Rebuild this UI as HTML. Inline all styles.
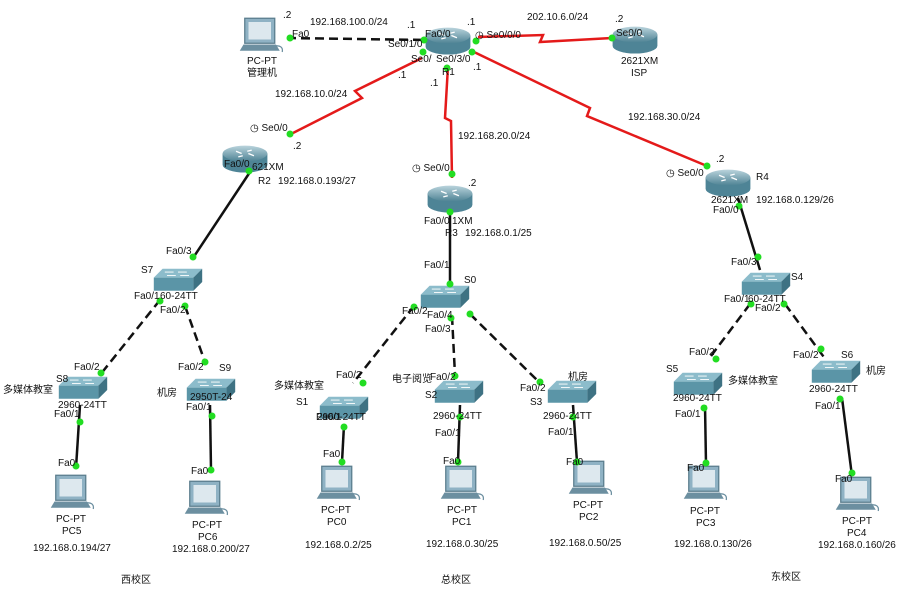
<!DOCTYPE html>
<html><head><meta charset="utf-8"><style>
body{margin:0;background:#fff}
svg text{font-family:"Liberation Sans","Noto Sans CJK SC",sans-serif;font-size:10px;fill:#111}
</style></head><body>
<svg width="904" height="596" viewBox="0 0 904 596" xmlns="http://www.w3.org/2000/svg">
<defs>
<linearGradient id="rg" x1="0" y1="0" x2="0" y2="1"><stop offset="0" stop-color="#b9d3dc"/><stop offset="1" stop-color="#4f8495"/></linearGradient>
<g id="router" transform="scale(1.12)">
<path d="M-20,-4 v10 a20,7 0 0 0 40,0 v-10z" fill="#4e8496"/>
<ellipse cx="0" cy="-4" rx="20" ry="7" fill="url(#rg)"/>
<path d="M-8,-6 l5,2 M8,-2 l-5,-2 M-6,-1 l4,-1 M6,-7 l-4,1" stroke="#fff" stroke-width="1.2"/>
</g>
<g id="switch" transform="scale(1.1)">
<path d="M-22,-4 l8,-8 h36 l-8,8z" fill="#8cbccb"/>
<path d="M-22,-4 h36 v12 h-36z" fill="#5b95a7"/>
<path d="M14,-4 l8,-8 v12 l-8,8z" fill="#3e7283"/>
<path d="M-12,-9 h8 M0,-9 h8 M-10,-6 h8 M2,-6 h8" stroke="#fff" stroke-width="0.8"/>
</g>
<g id="pc" transform="scale(1.25)">
<rect x="-13" y="-15" width="24" height="20" fill="#8fb2c4" stroke="#5a7c8c"/>
<rect x="-10" y="-12" width="18" height="14" fill="#dde8ee"/>
<path d="M-14,6 h26 l3,5 h-32z" fill="#6c8fa0"/>
<path d="M12,7 q6,0 5,5" stroke="#6c8fa0" fill="none"/>
</g>
</defs>

<g stroke="#e41a1a" stroke-width="2.5" fill="none">
<polyline points="478,37 543,35 540,42 612,38"/>
<polyline points="422,58 355,91 362,98 291,134"/>
<polyline points="448,66 445,118 451,121 452,178"/>
<polyline points="474,52 590,108 587,116 707,166"/>
</g>
<g stroke="#111" stroke-width="2.5" fill="none" stroke-dasharray="9,5">
<line x1="287" y1="38" x2="428" y2="40"/>
<line x1="160" y1="300" x2="100" y2="375"/>
<line x1="185" y1="306" x2="205" y2="362"/>
<line x1="414" y1="306" x2="353" y2="383"/>
<line x1="452" y1="316" x2="455" y2="375"/>
<line x1="470" y1="314" x2="540" y2="383"/>
<line x1="750" y1="304" x2="708" y2="360"/>
<line x1="785" y1="304" x2="826" y2="360"/>
</g>
<g stroke="#111" stroke-width="2.5" fill="none">
<line x1="250" y1="172" x2="193" y2="258"/>
<line x1="450" y1="212" x2="450" y2="282"/>
<line x1="738" y1="198" x2="760" y2="270"/>
<line x1="80" y1="405" x2="76" y2="468"/>
<line x1="210" y1="405" x2="211" y2="470"/>
<line x1="344" y1="425" x2="342" y2="462"/>
<line x1="460" y1="405" x2="458" y2="462"/>
<line x1="573" y1="405" x2="577" y2="462"/>
<line x1="705" y1="405" x2="706" y2="464"/>
<line x1="842" y1="398" x2="852" y2="476"/>
</g>

<use href="#pc" x="261" y="37"/>
<use href="#router" x="448" y="40"/>
<use href="#router" x="635" y="39"/>
<use href="#router" x="245" y="158"/>
<use href="#router" x="450" y="198"/>
<use href="#router" x="728" y="182"/>
<use href="#switch" x="178" y="282"/>
<use href="#switch" x="445" y="299"/>
<use href="#switch" x="766" y="286"/>
<use href="#switch" x="83" y="390"/>
<use href="#switch" x="211" y="392"/>
<use href="#switch" x="344" y="410"/>
<use href="#switch" x="459" y="394"/>
<use href="#switch" x="572" y="394"/>
<use href="#switch" x="698" y="386"/>
<use href="#switch" x="836" y="374"/>
<use href="#pc" x="72" y="494"/>
<use href="#pc" x="206" y="500"/>
<use href="#pc" x="338" y="485"/>
<use href="#pc" x="462" y="485"/>
<use href="#pc" x="590" y="480"/>
<use href="#pc" x="705" y="485"/>
<use href="#pc" x="857" y="496"/>

<g fill="#22dd22">
<circle cx="290" cy="38" r="3.5"/><circle cx="424" cy="40" r="3.5"/><circle cx="423" cy="52" r="3.5"/>
<circle cx="476" cy="41" r="3.5"/><circle cx="612" cy="38" r="3.5"/><circle cx="447" cy="68" r="3.5"/>
<circle cx="472" cy="52" r="3.5"/><circle cx="290" cy="134" r="3.5"/><circle cx="452" cy="174" r="3.5"/>
<circle cx="707" cy="166" r="3.5"/><circle cx="249" cy="171" r="3.5"/><circle cx="193" cy="257" r="3.5"/>
<circle cx="450" cy="212" r="3.5"/><circle cx="450" cy="284" r="3.5"/><circle cx="739" cy="206" r="3.5"/>
<circle cx="758" cy="257" r="3.5"/><circle cx="160" cy="301" r="3.5"/><circle cx="185" cy="306" r="3.5"/>
<circle cx="101" cy="373" r="3.5"/><circle cx="205" cy="362" r="3.5"/><circle cx="414" cy="307" r="3.5"/>
<circle cx="451" cy="318" r="3.5"/><circle cx="470" cy="314" r="3.5"/><circle cx="363" cy="383" r="3.5"/>
<circle cx="455" cy="376" r="3.5"/><circle cx="540" cy="382" r="3.5"/><circle cx="751" cy="304" r="3.5"/>
<circle cx="784" cy="304" r="3.5"/><circle cx="716" cy="359" r="3.5"/><circle cx="821" cy="349" r="3.5"/>
<circle cx="80" cy="422" r="3.5"/><circle cx="212" cy="416" r="3.5"/><circle cx="344" cy="427" r="3.5"/>
<circle cx="460" cy="417" r="3.5"/><circle cx="573" cy="417" r="3.5"/><circle cx="704" cy="408" r="3.5"/>
<circle cx="840" cy="399" r="3.5"/><circle cx="76" cy="466" r="3.5"/><circle cx="211" cy="470" r="3.5"/>
<circle cx="342" cy="462" r="3.5"/><circle cx="458" cy="462" r="3.5"/><circle cx="577" cy="462" r="3.5"/>
<circle cx="706" cy="463" r="3.5"/><circle cx="852" cy="473" r="3.5"/>
</g>

<text x="283" y="18">.2</text><text x="310" y="25">192.168.100.0/24</text><text x="407" y="28">.1</text>
<text x="292" y="37">Fa0</text><text x="247" y="64">PC-PT</text><text x="247" y="76">管理机</text>
<text x="425" y="37">Fa0/0</text><text x="467" y="25">.1</text><text x="388" y="47">Se0/1/0</text>
<text x="411" y="62">Se0/</text><text x="436" y="62">Se0/3/0</text><text x="442" y="75">R1</text>
<text x="475" y="38">◷ Se0/0/0</text><text x="527" y="20">202.10.6.0/24</text><text x="615" y="22">.2</text>
<text x="616" y="36">Se0/0</text><text x="621" y="64">2621XM</text><text x="631" y="76">ISP</text>
<text x="398" y="78">.1</text><text x="473" y="70">.1</text><text x="430" y="86">.1</text>
<text x="275" y="97">192.168.10.0/24</text><text x="458" y="139">192.168.20.0/24</text><text x="628" y="120">192.168.30.0/24</text>
<text x="250" y="131">◷ Se0/0</text><text x="293" y="149">.2</text><text x="224" y="167">Fa0/0</text>
<text x="252" y="170">621XM</text><text x="258" y="184">R2</text><text x="278" y="184">192.168.0.193/27</text>
<text x="412" y="171">◷ Se0/0</text><text x="468" y="186">.2</text><text x="424" y="224">Fa0/0</text><text x="452" y="224">1XM</text>
<text x="445" y="236">R3</text><text x="465" y="236">192.168.0.1/25</text>
<text x="666" y="176">◷ Se0/0</text><text x="716" y="162">.2</text><text x="756" y="180">R4</text>
<text x="711" y="203">2621XM</text><text x="756" y="203">192.168.0.129/26</text><text x="713" y="213">Fa0/0</text>
<text x="166" y="254">Fa0/3</text><text x="141" y="273">S7</text><text x="134" y="299">Fa0/1</text><text x="160" y="299">60-24TT</text><text x="160" y="313">Fa0/2</text>
<text x="424" y="268">Fa0/1</text><text x="464" y="283">S0</text><text x="402" y="314">Fa0/2</text><text x="427" y="318">Fa0/4</text><text x="425" y="332">Fa0/3</text>
<text x="731" y="265">Fa0/3</text><text x="791" y="280">S4</text><text x="724" y="302">Fa0/1</text><text x="748" y="302">60-24TT</text><text x="755" y="311">Fa0/2</text>
<text x="74" y="370">Fa0/2</text><text x="56" y="382">S8</text><text x="3" y="393">多媒体教室</text><text x="54" y="417">Fa0/1</text><text x="58" y="408">2960-24TT</text>
<text x="178" y="370">Fa0/2</text><text x="219" y="371">S9</text><text x="157" y="396">机房</text><text x="186" y="410">Fa0/1</text><text x="190" y="400">2950T-24</text>
<text x="336" y="378">Fa0/2</text><text x="274" y="389">多媒体教室</text><text x="296" y="405">S1</text><text x="316" y="420">Fa0/1</text><text x="317" y="420">2960-24TT</text>
<text x="392" y="382">电子阅览</text><text x="430" y="380">Fa0/2</text><text x="425" y="398">S2</text><text x="433" y="419">2960-24TT</text><text x="435" y="436">Fa0/1</text>
<text x="520" y="391">Fa0/2</text><text x="568" y="380">机房</text><text x="530" y="405">S3</text><text x="543" y="419">2960-24TT</text><text x="548" y="435">Fa0/1</text>
<text x="689" y="355">Fa0/2</text><text x="666" y="372">S5</text><text x="728" y="384">多媒体教室</text><text x="673" y="401">2960-24TT</text><text x="675" y="417">Fa0/1</text>
<text x="793" y="358">Fa0/2</text><text x="841" y="358">S6</text><text x="866" y="374">机房</text><text x="809" y="392">2960-24TT</text><text x="815" y="409">Fa0/1</text>
<text x="58" y="466">Fa0</text><text x="191" y="474">Fa0</text><text x="323" y="457">Fa0</text><text x="443" y="464">Fa0</text><text x="566" y="465">Fa0</text><text x="687" y="471">Fa0</text><text x="835" y="482">Fa0</text>
<text x="56" y="522">PC-PT</text><text x="62" y="534">PC5</text><text x="33" y="551">192.168.0.194/27</text>
<text x="192" y="528">PC-PT</text><text x="198" y="540">PC6</text><text x="172" y="552">192.168.0.200/27</text>
<text x="321" y="513">PC-PT</text><text x="327" y="525">PC0</text><text x="305" y="548">192.168.0.2/25</text>
<text x="447" y="513">PC-PT</text><text x="452" y="525">PC1</text><text x="426" y="547">192.168.0.30/25</text>
<text x="573" y="508">PC-PT</text><text x="579" y="520">PC2</text><text x="549" y="546">192.168.0.50/25</text>
<text x="690" y="514">PC-PT</text><text x="696" y="526">PC3</text><text x="674" y="547">192.168.0.130/26</text>
<text x="842" y="524">PC-PT</text><text x="847" y="536">PC4</text><text x="818" y="548">192.168.0.160/26</text>
<text x="121" y="583">西校区</text><text x="441" y="583">总校区</text><text x="771" y="580">东校区</text>
</svg>
</body></html>
